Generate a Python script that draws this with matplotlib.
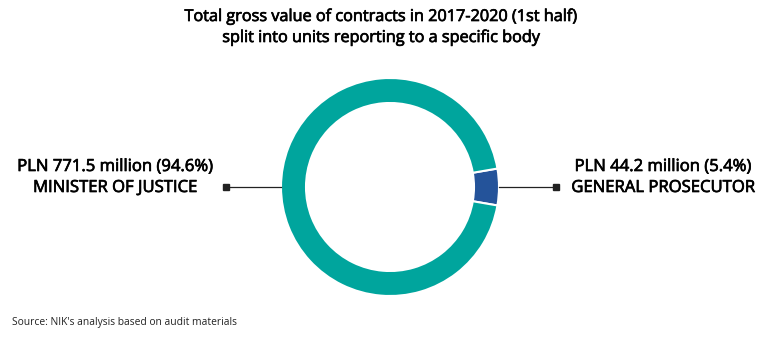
import matplotlib.pyplot as plt
import matplotlib.patheffects as pe

plt.rcParams['font.family'] = ['Open Sans', 'DejaVu Sans']

# contract values, PLN million
bodies = ["GENERAL PROSECUTOR", "MINISTER OF JUSTICE"]
values = [44.2, 771.5]
shares = [5.4, 94.6]
colors = ["#24539a", "#00a59d"]

W, H = 761, 339
fig = plt.figure(figsize=(W / 100, H / 100), dpi=100)
ax = fig.add_axes([0, 0, 1, 1])

cx, cy = 390, H - 187
r_out, ring = 109, 25

# small slice centred on the right side
start = -values[0] / sum(values) * 360 / 2
ax.pie(values, colors=colors, startangle=start, counterclock=True,
       center=(cx, cy), radius=r_out, frame=True,
       wedgeprops=dict(width=ring, edgecolor='white', linewidth=1.5))
ax.set_xlim(0, W)
ax.set_ylim(0, H)
ax.set_aspect('equal')
ax.axis('off')

# leader lines with square ends
ax.plot([cx + r_out, 556], [cy, cy], color='#222222', lw=0.9)
ax.plot([556], [cy], marker='s', ms=4, color='#222222')
ax.plot([cx - r_out, 226], [cy, cy], color='#222222', lw=0.9)
ax.plot([226], [cy], marker='s', ms=4, color='#222222')

# a thin stroke makes the regular face a little heavier
heavy = [pe.withStroke(linewidth=0.5, foreground='black')]

lab = dict(ha='center', va='center', fontsize=12, path_effects=heavy)
ax.text(663, H - 167, "PLN %.1f million (%.1f%%)" % (values[0], shares[0]), **lab)
ax.text(663, H - 188, bodies[0], **lab)
ax.text(115, H - 167, "PLN %.1f million (%.1f%%)" % (values[1], shares[1]), **lab)
ax.text(115, H - 188, bodies[1], **lab)

ttl = dict(ha='center', va='center', fontsize=11.7, path_effects=heavy)
ax.text(381, H - 17, "Total gross value of contracts in 2017-2020 (1st half)", **ttl)
ax.text(381, H - 38, "split into units reporting to a specific body", **ttl)

ax.text(12, H - 323, "Source: NIK's analysis based on audit materials",
        ha='left', va='center', fontsize=7.4, color='#222222')

fig.savefig('out.png', dpi=100, facecolor='white')
